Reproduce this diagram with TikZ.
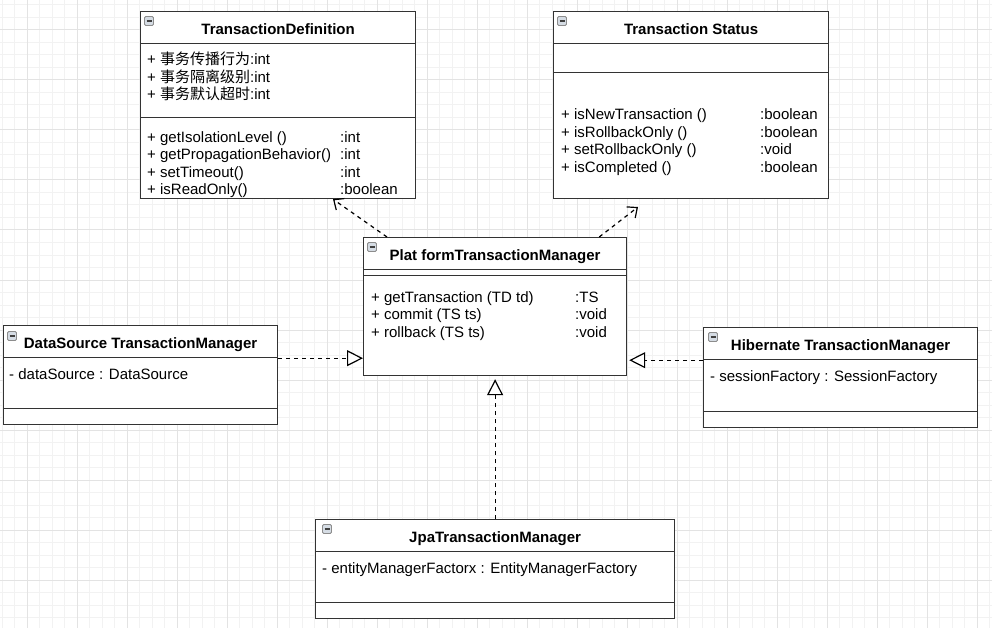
\documentclass[tikz,border=0pt]{standalone}
\usepackage{fontspec}
\setmainfont{Liberation Sans}
\newfontfamily\cjk{Noto Sans CJK SC}
\usetikzlibrary{arrows.meta,calc}
\definecolor{gridminor}{HTML}{F2F2F2}
\definecolor{gridmajor}{HTML}{E3E3E3}
\definecolor{umlline}{HTML}{333333}
\definecolor{iconfill}{HTML}{D5DCE4}

\begin{document}
\begin{tikzpicture}[x=1pt,y=-1pt,
  classbox/.style={draw=umlline, line width=1.2pt, fill=white, rectangle, anchor=north west, inner sep=0pt},
  headbox/.style={draw=umlline, line width=1.2pt, rectangle, anchor=north west, inner sep=0pt,
    minimum height=32pt, text height=13.4pt, text depth=0pt, font=\fontsize{15}{17.5}\selectfont\bfseries},
  member/.style={anchor=base west, inner sep=0pt, font=\fontsize{15}{17.5}\selectfont},
  foldicon/.style={draw=gray!90, line width=0.8pt, fill=iconfill, rounded corners=1.2pt, minimum size=9pt, inner sep=0pt,
    path picture={\draw[line width=1.3pt, black!75] ([xshift=2pt]path picture bounding box.west) -- ([xshift=-2pt]path picture bounding box.east);}},
  realize/.style={draw=black, line width=1.2pt, dash pattern=on 4pt off 4pt, -{Triangle[length=16pt,width=16pt,fill=white,line width=1.2pt]}},
  depend/.style={draw=black, line width=1.2pt, dash pattern=on 4pt off 4pt, -{Straight Barb[length=8pt,width=14pt,line width=1.2pt]}}]
\useasboundingbox (0,0) rectangle (992,628);
% grid:
\foreach \gx in {2,14.5,...,992} \draw[gridminor, line width=1pt] (\gx,0) -- (\gx,628);
\foreach \gy in {5,17.5,...,628} \draw[gridminor, line width=1pt] (0,\gy) -- (992,\gy);
\foreach \gx in {27,77,...,977} \draw[gridmajor, line width=1pt] (\gx,0) -- (\gx,628);
\foreach \gy in {30,80,...,580} \draw[gridmajor, line width=1pt] (0,\gy) -- (992,\gy);

% TransactionDefinition
\node[classbox, minimum width=275pt, minimum height=187pt] (td) at (140,11) {};
\node[headbox, minimum width=275pt] (td-h) at (td.north west) {TransactionDefinition};
\draw[umlline, line width=1.2pt] (td-h.south west) ++(0,73) -- ++(275,0);
\node[foldicon] (td-i) at (149,21) {};
\node[member] (td-a1) at (147,65) {+ {\cjk 事务传播行为}:int};
\node[member] (td-a2) at (147,82.5) {+ {\cjk 事务隔离级别}:int};
\node[member] (td-a3) at (147,100) {+ {\cjk 事务默认超时}:int};
\node[member] (td-m1) at (147,142.5) {\makebox[193pt][l]{+ getIsolationLevel ()}:int};
\node[member] (td-m2) at (147,160) {\makebox[193pt][l]{+ getPropagationBehavior()}:int};
\node[member] (td-m3) at (147,177.5) {\makebox[193pt][l]{+ setTimeout()}:int};
\node[member] (td-m4) at (147,195) {\makebox[193pt][l]{+ isReadOnly()}:boolean};

% Transaction Status
\node[classbox, minimum width=275pt, minimum height=187pt] (ts) at (553,11) {};
\node[headbox, minimum width=275pt] (ts-h) at (ts.north west) {Transaction Status};
\draw[umlline, line width=1.2pt] (ts-h.south west) ++(0,28) -- ++(275,0);
\node[foldicon] (ts-i) at (562,21) {};
\node[member] (ts-m1) at (561,120) {\makebox[199pt][l]{+ isNewTransaction ()}:boolean};
\node[member] (ts-m2) at (561,137.5) {\makebox[199pt][l]{+ isRollbackOnly ()}:boolean};
\node[member] (ts-m3) at (561,155) {\makebox[199pt][l]{+ setRollbackOnly ()}:void};
\node[member] (ts-m4) at (561,172.5) {\makebox[199pt][l]{+ isCompleted ()}:boolean};

% Plat formTransactionManager
\node[classbox, minimum width=263pt, minimum height=138pt] (ptm) at (363,237) {};
\node[headbox, minimum width=263pt] (ptm-h) at (ptm.north west) {Plat formTransactionManager};
\draw[umlline, line width=1.2pt] (ptm-h.south west) ++(0,5) -- ++(263,0);
\node[foldicon] (ptm-i) at (372,247) {};
\node[member] (ptm-m1) at (371,302) {\makebox[204pt][l]{+ getTransaction (TD td)}:TS};
\node[member] (ptm-m2) at (371,319.5) {\makebox[204pt][l]{+ commit (TS ts)}:void};
\node[member] (ptm-m3) at (371,337) {\makebox[204pt][l]{+ rollback (TS ts)}:void};

% DataSource TransactionManager
\node[classbox, minimum width=274pt, minimum height=99pt] (ds) at (3,325) {};
\node[headbox, minimum width=274pt] (ds-h) at (ds.north west) {DataSource TransactionManager};
\draw[umlline, line width=1.2pt] (ds-h.south west) ++(0,50) -- ++(274,0);
\node[foldicon] (ds-i) at (12,336) {};
\node[member] (ds-a1) at (9,379) {- dataSource : DataSource};

% Hibernate TransactionManager
\node[classbox, minimum width=274pt, minimum height=100pt] (hib) at (703,327) {};
\node[headbox, minimum width=274pt] (hib-h) at (hib.north west) {Hibernate TransactionManager};
\draw[umlline, line width=1.2pt] (hib-h.south west) ++(0,51) -- ++(274,0);
\node[foldicon] (hib-i) at (713,337) {};
\node[member] (hib-a1) at (710,381) {- sessionFactory : SessionFactory};

% JpaTransactionManager
\node[classbox, minimum width=359pt, minimum height=99pt] (jpa) at (315,519) {};
\node[headbox, minimum width=359pt] (jpa-h) at (jpa.north west) {JpaTransactionManager};
\draw[umlline, line width=1.2pt] (jpa-h.south west) ++(0,50) -- ++(359,0);
\node[foldicon] (jpa-i) at (327,529) {};
\node[member] (jpa-a1) at (322,573) {- entityManagerFactorx : EntityManagerFactory};

% connectors:
\draw[realize] (ds-h.south east) -- (ds-h.south east -| ptm.west);
\draw[realize, shorten >=2pt] (hib-h.south west) -- (hib-h.south west -| ptm.east);
\draw[realize, shorten >=3pt] (jpa.north) -- (ptm.south);
\draw[depend] ([xshift=24pt]ptm.north west) -- ([xshift=193pt]td.south west);
\coordinate (ts-dep) at (638,207);
\draw[depend] ([xshift=-28pt]ptm.north east) -- (ts-dep);
\end{tikzpicture}
\end{document}
